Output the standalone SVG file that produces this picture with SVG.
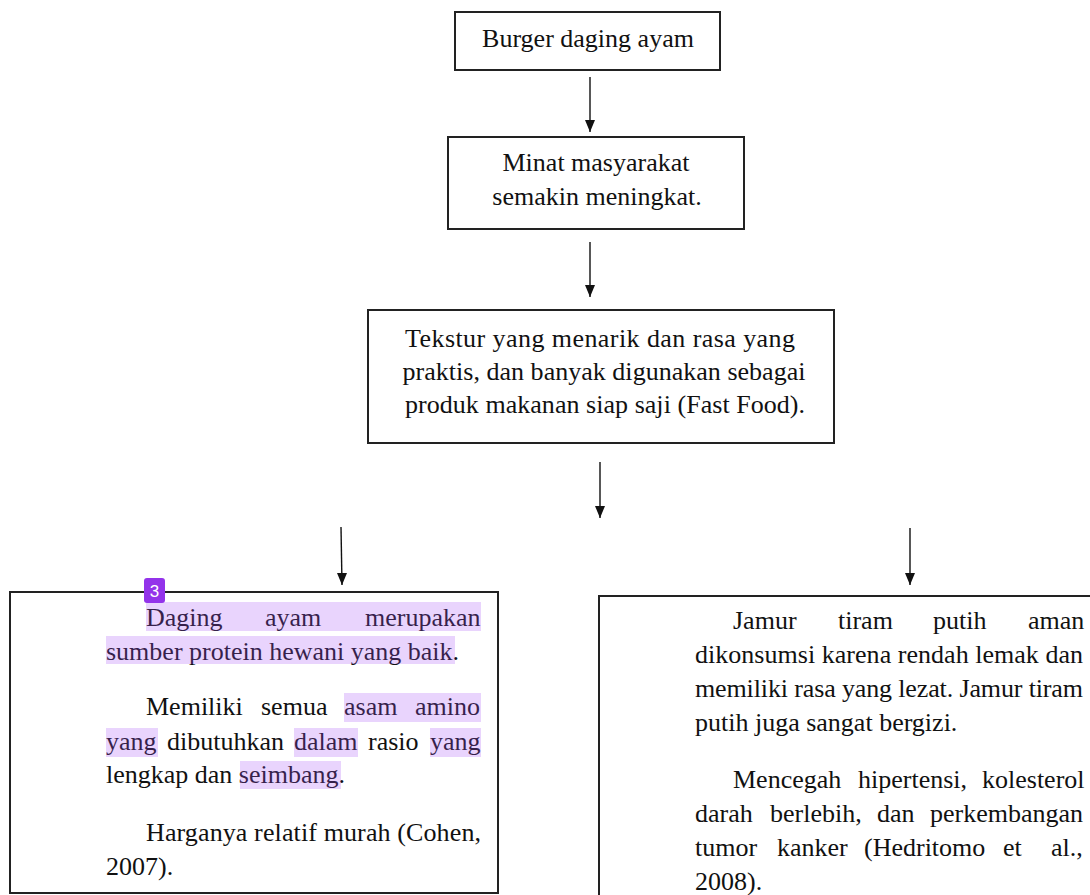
<svg xmlns="http://www.w3.org/2000/svg" width="1090" height="895" viewBox="0 0 1090 895">
  <defs>
    <marker id="arrow" viewBox="0 0 10 12" refX="5" refY="12" markerWidth="10" markerHeight="12" markerUnits="userSpaceOnUse" orient="0">
      <path d="M0,0 L10,0 L5,12 z" fill="#111"/>
    </marker>
    <style>
      .box { fill: #fff; stroke: #222; stroke-width: 2; }
      .t { font-family: "Liberation Serif", "Times New Roman", serif; font-size: 26px; fill: #111; }
      .c { text-anchor: middle; }
      .conn { stroke: #111; stroke-width: 1.4; fill: none; marker-end: url(#arrow); }
      .hl { fill: #a855f7; opacity: 0.25; }
      .badge { fill: #9333ea; }
      .badgeT { font-family: "Liberation Sans", Arial, sans-serif; font-size: 17px; fill: #fff; text-anchor: middle; }
    </style>
  </defs>
  <rect width="1090" height="895" fill="#fff"/>

  <g id="connectors">
    <line class="conn" x1="590" y1="77" x2="590" y2="132"/>
    <line class="conn" x1="590" y1="242" x2="590" y2="297"/>
    <line class="conn" x1="600" y1="462" x2="600" y2="518"/>
    <line class="conn" x1="341" y1="527" x2="342" y2="585"/>
    <line class="conn" x1="910" y1="528" x2="910" y2="585"/>
  </g>

  <g id="node-burger">
    <rect class="box" x="455" y="12" width="265" height="58"/>
    <text class="t c" x="588" y="47">Burger daging ayam</text>
  </g>

  <g id="node-minat">
    <rect class="box" x="448" y="137" width="296" height="92"/>
    <text class="t c" x="596" y="171">Minat masyarakat</text>
    <text class="t c" x="597" y="205">semakin meningkat.</text>
  </g>

  <g id="node-tekstur">
    <rect class="box" x="368" y="310" width="466" height="133"/>
    <text class="t c" x="600" y="347" textLength="390" lengthAdjust="spacing">Tekstur yang menarik dan rasa yang</text>
    <text class="t c" x="604" y="380" textLength="403" lengthAdjust="spacing">praktis, dan banyak digunakan sebagai</text>
    <text class="t c" x="605" y="413" textLength="400" lengthAdjust="spacing">produk makanan siap saji (Fast Food).</text>
  </g>

  <g id="node-daging">
    <rect class="box" x="10" y="592" width="488" height="301"/>
    <text class="t" y="626"><tspan x="146">Daging</tspan><tspan x="265">ayam</tspan><tspan x="365">merupakan</tspan></text>
    <text class="t" x="106" y="660">sumber protein hewani yang baik.</text>
    <text class="t" y="715"><tspan x="146">Memiliki</tspan><tspan x="261">semua</tspan><tspan x="344">asam</tspan><tspan x="415">amino</tspan></text>
    <text class="t" y="750"><tspan x="106">yang</tspan><tspan x="167">dibutuhkan</tspan><tspan x="294">dalam</tspan><tspan x="368">rasio</tspan><tspan x="430">yang</tspan></text>
    <text class="t" x="106" y="783">lengkap dan seimbang.</text>
    <text class="t" x="146" y="841" textLength="335" lengthAdjust="spacing">Harganya relatif murah (Cohen,</text>
    <text class="t" x="106" y="875">2007).</text>
    <g id="highlights">
      <rect class="hl" x="146" y="602" width="335" height="29"/>
      <rect class="hl" x="106" y="636" width="349" height="28"/>
      <rect class="hl" x="344" y="693" width="137" height="29"/>
      <rect class="hl" x="106" y="728" width="52" height="29"/>
      <rect class="hl" x="294" y="728" width="64" height="29"/>
      <rect class="hl" x="430" y="728" width="51" height="29"/>
      <rect class="hl" x="240" y="761" width="101" height="28"/>
    </g>
    <g id="badge">
      <rect class="badge" x="144" y="578" width="21" height="25" rx="3"/>
      <text class="badgeT" x="154.5" y="597">3</text>
    </g>
  </g>

  <g id="node-jamur">
    <rect class="box" x="599" y="596" width="520" height="330"/>
    <text class="t" y="629"><tspan x="733">Jamur</tspan><tspan x="838">tiram</tspan><tspan x="933">putih</tspan><tspan x="1028">aman</tspan></text>
    <text class="t" x="695" y="663" textLength="388" lengthAdjust="spacing">dikonsumsi karena rendah lemak dan</text>
    <text class="t" x="695" y="697" textLength="388" lengthAdjust="spacing">memiliki rasa yang lezat. Jamur tiram</text>
    <text class="t" x="695" y="731">putih juga sangat bergizi.</text>
    <text class="t" y="788"><tspan x="733">Mencegah</tspan><tspan x="858">hipertensi,</tspan><tspan x="982">kolesterol</tspan></text>
    <text class="t" y="822"><tspan x="695">darah</tspan><tspan x="770">berlebih,</tspan><tspan x="877">dan</tspan><tspan x="930">perkembangan</tspan></text>
    <text class="t" y="856"><tspan x="695">tumor</tspan><tspan x="777">kanker</tspan><tspan x="864">(Hedritomo</tspan><tspan x="1003">et</tspan><tspan x="1051">al.,</tspan></text>
    <text class="t" x="695" y="890">2008).</text>
  </g>
</svg>
